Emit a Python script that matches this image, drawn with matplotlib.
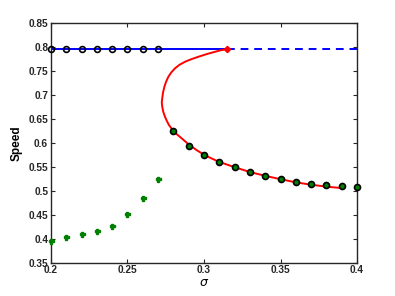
import matplotlib
matplotlib.use("Agg")
import matplotlib.pyplot as plt

# Upper (stable) branch
upper_sigma = [0.20, 0.21, 0.22, 0.23, 0.24, 0.25, 0.26, 0.27]
upper_speed = [0.795] * 8
branch_speed = 0.795
fold_sigma = 0.315
blue_solid_sigma = [0.20, 0.315]
blue_dash_sigma = [0.315, 0.40]

# Lower branch simulation points
lower_sigma = [0.28, 0.29, 0.30, 0.31, 0.32, 0.33, 0.34, 0.35, 0.36, 0.37, 0.38, 0.39, 0.40]
lower_speed = [0.625, 0.594, 0.575, 0.560, 0.549, 0.539, 0.531, 0.524, 0.5185, 0.514, 0.511, 0.509, 0.507]

# Green points
green_sigma = [0.20, 0.21, 0.22, 0.23, 0.24, 0.25, 0.26, 0.27]
green_speed = [0.395, 0.403, 0.410, 0.417, 0.426, 0.451, 0.485, 0.524]

# Red curve
red_sigma = [0.315, 0.3110, 0.3072, 0.3015, 0.2963, 0.2916, 0.2876, 0.2840, 0.2810, 0.2786,
             0.2767, 0.2752, 0.2741, 0.2732, 0.2727, 0.2724, 0.2727, 0.2734,
             0.2745, 0.2757, 0.2771, 0.2799, 0.2825, 0.2854, 0.2897, 0.2950, 0.30, 0.305,
             0.31, 0.32, 0.33, 0.34, 0.35, 0.36, 0.37, 0.38, 0.39]
red_speed = [0.795, 0.7928, 0.7896, 0.7845, 0.7792, 0.7740, 0.7688, 0.7625, 0.755, 0.7465,
             0.7375, 0.727, 0.7167, 0.7045, 0.6925, 0.684, 0.675, 0.6645,
             0.6542, 0.6455, 0.6369, 0.625, 0.617, 0.6092, 0.5973, 0.585, 0.575, 0.5672,
             0.560, 0.549, 0.539, 0.531, 0.524, 0.5175, 0.5125, 0.5085, 0.5055]

xticks = [0.2, 0.25, 0.3, 0.35, 0.4]
xticklabels = ["0.2", "0.25", "0.3", "0.35", "0.4"]
yticks = [0.35, 0.4, 0.45, 0.5, 0.55, 0.6, 0.65, 0.7, 0.75, 0.8, 0.85]
yticklabels = ["0.35", "0.4", "0.45", "0.5", "0.55", "0.6", "0.65", "0.7", "0.75", "0.8", "0.85"]

plt.rcParams['font.family'] = ['Liberation Sans', 'DejaVu Sans']

fig = plt.figure(figsize=(3.95, 2.96), dpi=100)
ax = fig.add_axes([0.129, 0.1125, 0.775, 0.8105])

ax.plot(blue_solid_sigma, [branch_speed, branch_speed], color='blue', lw=1.4, zorder=2)
ax.plot(blue_dash_sigma, [branch_speed, branch_speed], color='blue', lw=1.4, ls=(0, (4, 3)), zorder=2)
ax.plot(red_sigma, red_speed, color='red', lw=1.4, zorder=3, solid_joinstyle='round')
ax.plot([fold_sigma], [branch_speed], marker='D', color='red', ms=3.2, zorder=4)

ax.plot(upper_sigma, upper_speed, ls='none', marker='o', mfc='none', mec='black', mew=1.2,
        ms=4.2, zorder=5, clip_on=False)
ax.plot(lower_sigma, lower_speed, ls='none', marker='o', mfc='#008000', mec='black', mew=1.2,
        ms=4.3, zorder=5, clip_on=False)
ax.plot(green_sigma, green_speed, ls='none', marker='P', color='#008000', ms=3.6,
        zorder=5, clip_on=False)

ax.set_xlim(0.2, 0.4)
ax.set_ylim(0.35, 0.85)
ax.set_xticks(xticks)
ax.set_xticklabels(xticklabels)
ax.set_yticks(yticks)
ax.set_yticklabels(yticklabels)
ax.tick_params(direction='in', length=3, width=0.8, top=True, right=True,
               labelsize=7.3, pad=2, colors='#262626', labelcolor='#262626')
for lab in ax.get_xticklabels() + ax.get_yticklabels():
    lab.set_fontweight('bold')
for s in ax.spines.values():
    s.set_linewidth(1.0)
    s.set_color('#262626')

ax.set_xlabel(r'$\sigma$', fontsize=9, labelpad=1)
ax.set_ylabel('Speed', fontsize=8.5, fontweight='bold', labelpad=4)

fig.savefig('out.png', dpi=100)
